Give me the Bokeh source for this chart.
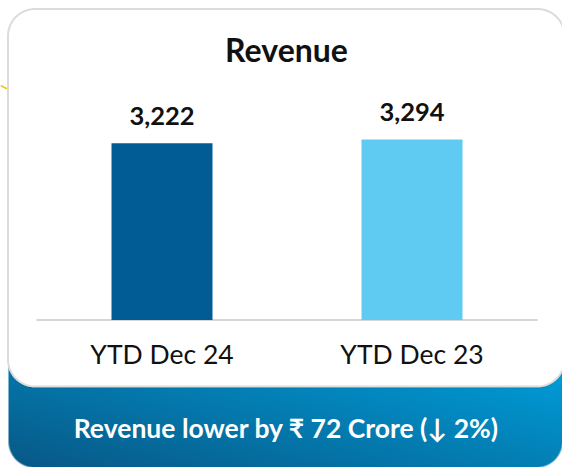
import numpy as np
from bokeh.plotting import figure
from bokeh.models import Range1d, ColumnDataSource
from bokeh.core.properties import value
from bokeh.embed import file_html
from bokeh.resources import INLINE

# ---- data ----
categories = ["YTD Dec 24", "YTD Dec 23"]
revenue = [3222, 3294]
value_labels = ["3,222", "3,294"]
bar_colors = ["#015c96", "#5fcbf2"]
title_text = "Revenue"
banner_text = "Revenue lower by \u20b9 72 Crore (\u2193 2%)"

W, H = 562, 467
FONT = "Lato"

# category slots: slot i centred at i + 0.5 (like a factor range)
cat_pos = np.arange(len(categories)) + 0.5
x_start = 0.5 - 161.5 / 250.0
x_end = x_start + W / 250.0

# value axis scale: baseline 147.5 px above bottom, 18.24 units per px
upp = 18.24
y_start = -147.5 * upp
y_end = y_start + H * upp

p = figure(width=W, height=H, output_backend="svg", toolbar_location=None,
           x_range=Range1d(x_start, x_end),
           y_range=Range1d(y_start, y_end),
           min_border=0, min_border_left=0, min_border_right=0,
           min_border_top=0, min_border_bottom=0)
p.extra_x_ranges = {"px": Range1d(0, W)}
p.extra_y_ranges = {"px": Range1d(0, H)}
p.axis.visible = False
p.grid.visible = False
p.outline_line_color = None
p.background_fill_color = "white"
p.border_fill_color = "white"

# ---- small yellow arc at the left edge (decoration) ----
p.line([0, 3, 6, 9, 11], [382, 380.5, 379, 377.8, 377], line_color="#f2c318",
       line_width=1.5, x_range_name="px", y_range_name="px")

# ---- banner gradient (decoration) ----
bw, bh = 554, 107
xs = np.arange(bw)[None, :] + 0.5
ys = np.arange(bh)[:, None] + 0.5  # row 0 is bottom
t = 0.55 * (xs / bw) + 0.45 * (ys / bh)
dark = np.array([8, 88, 134])
bright = np.array([0, 160, 220])
rgb = dark[None, None, :] * (1 - t[..., None]) + bright[None, None, :] * t[..., None]
r = 26.0
alpha = np.ones((bh, bw))
for cx in (r, bw - r):
    cy = r
    d = np.sqrt((xs - cx) ** 2 + (ys - cy) ** 2)
    mask = ((xs < r) if cx == r else (xs > bw - r)) & (ys < r)
    a = np.clip(r - d + 0.5, 0, 1)
    alpha = np.where(mask, np.minimum(alpha, a), alpha)
img = np.zeros((bh, bw), dtype=np.uint32)
view = img.view(dtype=np.uint8).reshape((bh, bw, 4))
view[..., 0] = rgb[..., 0].astype(np.uint8)
view[..., 1] = rgb[..., 1].astype(np.uint8)
view[..., 2] = rgb[..., 2].astype(np.uint8)
view[..., 3] = (alpha * 255).astype(np.uint8)
p.image_rgba(image=[img], x=8, y=0, dw=bw, dh=bh,
             x_range_name="px", y_range_name="px")

# ---- card (decoration) ----
def rounded_rect(x0, y0, x1, y1, rad, n=20):
    px, py = [], []
    corners = [(x1 - rad, y1 - rad, 0, 90), (x0 + rad, y1 - rad, 90, 180),
               (x0 + rad, y0 + rad, 180, 270), (x1 - rad, y0 + rad, 270, 360)]
    for cx, cy, a0, a1 in corners:
        ang = np.radians(np.linspace(a0, a1, n))
        px.extend(cx + rad * np.cos(ang))
        py.extend(cy + rad * np.sin(ang))
    return px, py

sx, sy = rounded_rect(7.5, 79, 564, 458, 27)
p.patch(sx, sy, fill_color="#000000", fill_alpha=0.10, line_color=None,
        x_range_name="px", y_range_name="px")
cx_, cy_ = rounded_rect(7.5, 81, 564, 458.5, 27)
p.patch(cx_, cy_, fill_color="white", line_color="#dcdcdc", line_width=2,
        x_range_name="px", y_range_name="px")

# ---- baseline ----
p.segment(x0=[36], x1=[537], y0=[0], y1=[0], line_color="#d6d6d6",
          line_width=2, x_range_name="px")

# ---- bars ----
src = ColumnDataSource(dict(x=cat_pos, cat=categories, val=revenue,
                            lab=value_labels, col=bar_colors))
p.vbar(x="x", top="val", bottom=0, width=0.404, fill_color="col",
       line_color=None, source=src)

p.text(x="x", y="val", text="lab", source=src, y_offset=-27,
       text_align="center", text_baseline="alphabetic",
       text_font=value(FONT), text_font_style="bold",
       text_font_size="25.5px", text_color="#111111")

p.text(x="x", y=0, text="cat", source=src, y_offset=34,
       text_align="center", text_baseline="alphabetic",
       text_font=value(FONT), text_font_size="26.5px", text_color="#111111")

# ---- title ----
p.text(x=[286], y=[418], text=[title_text], text_align="center",
       text_baseline="alphabetic", text_font=value(FONT),
       text_font_style="bold", text_font_size="32px", text_color="#111111",
       x_range_name="px", y_range_name="px")

# ---- banner text ----
p.text(x=[286], y=[39.5], text=[banner_text], text_align="center",
       text_baseline="alphabetic", text_font=value(FONT),
       text_font_style="bold", text_font_size="26.5px", text_color="white",
       x_range_name="px", y_range_name="px")

open("out.html", "w").write(file_html(p, INLINE))
